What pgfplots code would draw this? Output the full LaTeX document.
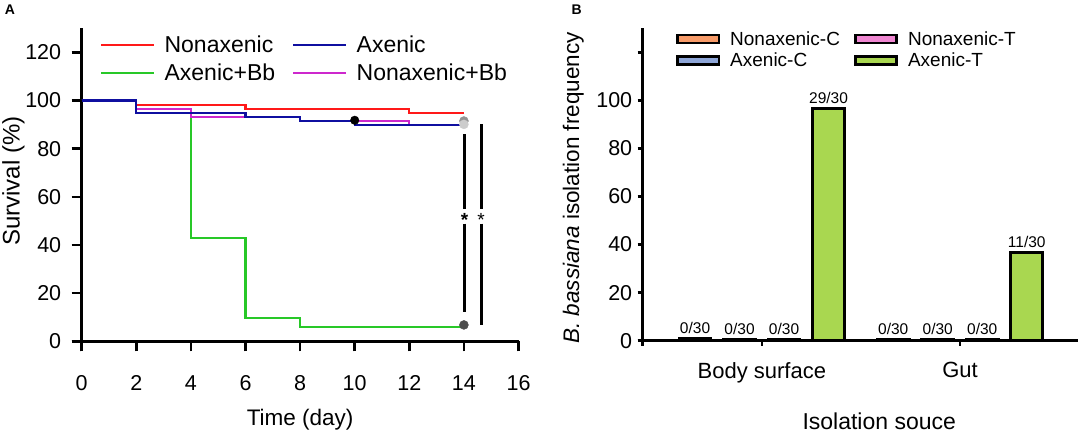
\documentclass[border=0pt]{standalone}
\usepackage{fontspec}
\setmainfont{Liberation Sans}
\usepackage{pgfplots}
\pgfplotsset{compat=1.18}

\definecolor{cRed}{RGB}{255,25,25}
\definecolor{cBlue}{RGB}{15,15,160}
\definecolor{cGreen}{RGB}{40,200,40}
\definecolor{cMag}{RGB}{205,40,205}
\definecolor{bOrange}{RGB}{247,155,105}
\definecolor{bPink}{RGB}{240,135,210}
\definecolor{bBlue}{RGB}{142,166,216}
\definecolor{bGreen}{RGB}{169,215,80}

\begin{document}
\begin{tikzpicture}[x=1pt,y=1pt]
\useasboundingbox (0,0) rectangle (1084,433);
\node[font=\bfseries\fontsize{14}{14}\selectfont] at (10,423) {A};
\node[font=\bfseries\fontsize{14}{14}\selectfont] at (576.7,423) {B};

% ---------------- Panel A ----------------
\begin{axis}[
  at={(81.7pt,91.7pt)}, anchor=south west,
  scale only axis, width=436.8pt, height=313pt,
  xmin=0, xmax=16, ymin=0, ymax=130,
  axis lines=left,
  axis line style={-, line width=2.6pt, shorten <=-10pt},
  xtick={0,2,...,16}, ytick={0,20,...,120},
  tick align=outside, major tick length=10pt,
  tick style={line width=2.6pt, black},
  minor tick num=0,
  /pgf/number format/assume math mode=true,
  tick label style={font=\fontsize{21.5}{21.5}\selectfont},
  x tick label style={yshift=-21pt},
  y tick label style={xshift=-7pt},
  clip=false,
  xlabel={Time (day)},
  ylabel={Survival (\%)},
  x label style={at={(axis description cs:0.5,-0.250)}, anchor=center, font=\fontsize{22.5}{22.5}\selectfont},
  y label style={at={(axis description cs:-0.1566,0.512)}, anchor=center, rotate=0, font=\fontsize{24}{24}\selectfont},
  legend columns=2,
  legend cell align=left,
  legend style={draw=none, fill=none, inner sep=0pt,
    at={(axis description cs:0,1)}, anchor=north west, xshift=18.2pt, yshift=-5.5pt,
    font=\fontsize{23}{23}\selectfont,
    nodes={inner sep=2pt},
    row sep=5.7pt,
    /tikz/every odd column/.append style={column sep=7pt},
    /tikz/every even column/.append style={column sep=15pt}},
  legend image code/.code={\draw[#1, line width=2.5pt] (0pt,0pt) -- (53pt,0pt);},
]
\addplot[const plot, cRed, line width=2.3pt] coordinates {(0,100) (2,98.2) (6,96.4) (12,94.7) (14,94.7)};
\addlegendentry{Nonaxenic}
\addplot[const plot, cBlue, line width=2.3pt] coordinates {(0,100) (2,94.7) (6,93.2) (8,91.4) (10,89.8) (14,89.8)};
\addlegendentry{Axenic}
\addplot[const plot, cGreen, line width=2.3pt] coordinates {(0,100) (2,94.7) (4,42.9) (6,9.6) (8,5.8) (14,5.8)};
\addlegendentry{Axenic+Bb}
\addplot[const plot, cMag, line width=2.3pt] coordinates {(0,100) (2,96.4) (4,93.2) (8,91.4) (12,89.8) (14,89.8)};
\addlegendentry{Nonaxenic+Bb}
\addplot[const plot, cBlue, line width=2.3pt, forget plot] coordinates {(0,100) (2,94.7) (6,93.2) (8,91.4) (10,89.8) (14,89.8)};
% censor / end markers
\addplot[only marks, mark=*, mark size=4.3pt, mark options={fill=black, draw=black}, forget plot] coordinates {(10,91.8)};
\addplot[only marks, mark=*, mark size=4.5pt, mark options={fill=gray!85, draw=gray!85}, forget plot] coordinates {(14,91.5)};
\addplot[only marks, mark=*, mark size=4.5pt, mark options={fill=gray!40, draw=gray!40}, forget plot] coordinates {(14,90.1)};
\addplot[only marks, mark=*, mark size=4.5pt, mark options={fill=black!70, draw=black!70}, forget plot] coordinates {(14,6.8)};
% significance bars
\draw[line width=2.8pt] (axis cs:14.02,86) -- (axis cs:14.02,55);
\draw[line width=2.8pt] (axis cs:14.02,48.9) -- (axis cs:14.02,12.3);
\draw[line width=2.8pt] (axis cs:14.63,90.1) -- (axis cs:14.63,55);
\draw[line width=2.8pt] (axis cs:14.63,48.9) -- (axis cs:14.63,6.8);
\node[font=\bfseries\fontsize{19}{19}\selectfont, yshift=-4pt] at (axis cs:14.02,51.9) {*};
\node[font=\fontsize{19}{19}\selectfont, yshift=-4pt] at (axis cs:14.63,52.2) {*};
\end{axis}

% ---------------- Panel B ----------------
\begin{axis}[
  at={(642.7pt,92.3pt)}, anchor=south west,
  scale only axis, width=435.6pt, height=312.4pt,
  xmin=-0.601, xmax=1.597, ymin=0, ymax=130,
  axis lines=left,
  axis line style={-, line width=2.6pt, shorten <=-5pt},
  xtick={0,1}, xticklabels={Body surface, Gut},
  ytick={0,20,...,120}, yticklabels={0,20,40,60,80,100,},
  tick align=outside, major tick length=5pt,
  tick style={line width=2.6pt, black},
  minor tick num=0,
  y tick label style={font=\fontsize{21.5}{21.5}\selectfont, xshift=-2pt},
  x tick label style={font=\fontsize{22}{22}\selectfont, yshift=-13pt},
  clip=false,
  ybar, bar width=32pt, bar shift=0pt,
  nodes near coords, point meta=explicit symbolic,
  every node near coord/.append style={font=\fontsize{15.5}{15.5}\selectfont, black},
  xlabel={Isolation souce},
  ylabel={\textit{B. bassiana} isolation frequency},
  x label style={at={(axis description cs:0.543,-0.259)}, anchor=center, font=\fontsize{23}{23}\selectfont},
  y label style={at={(axis description cs:-0.1593,0.489)}, anchor=center, rotate=0, font=\fontsize{22.5}{22.5}\selectfont},
  legend columns=2,
  legend cell align=left,
  legend style={draw=none, fill=none, inner sep=0pt,
    at={(axis description cs:0,1)}, anchor=north west, xshift=33.3pt, yshift=-1pt,
    font=\fontsize{19}{19}\selectfont,
    nodes={inner sep=2pt},
    row sep=2pt,
    /tikz/every odd column/.append style={column sep=8pt},
    /tikz/every even column/.append style={column sep=12pt}},
  legend image code/.code={\draw[#1, line width=2.6pt] (0pt,-4pt) rectangle (41.4pt,4pt);},
]
\addplot[fill=bOrange, draw=black, line width=2.8pt] coordinates {(-0.3368,1.0)[0/30] (0.6632,0.5)[0/30]};
\addlegendentry{Nonaxenic-C}
\addplot[fill=bPink, draw=black, line width=2.8pt] coordinates {(0.1123,0.5)[0/30] (1.1123,0.5)[0/30]};
\addlegendentry{Nonaxenic-T}
\addplot[fill=bBlue, draw=black, line width=2.8pt] coordinates {(-0.1123,0.5)[0/30] (0.8877,0.5)[0/30]};
\addlegendentry{Axenic-C}
\addplot[fill=bGreen, draw=black, line width=2.8pt] coordinates {(0.3368,96.67)[29/30] (1.3368,36.67)[11/30]};
\addlegendentry{Axenic-T}
\end{axis}
\end{tikzpicture}
\end{document}
